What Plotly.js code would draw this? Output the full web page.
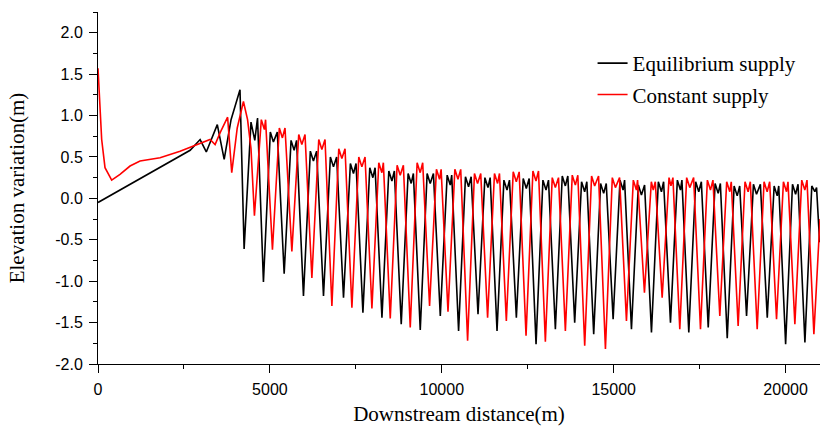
<!DOCTYPE html>
<html>
<head>
<meta charset="utf-8">
<script src="https://cdn.plot.ly/plotly-3.0.1.min.js"></script>
<style>html,body{margin:0;padding:0;background:#fff;}#chart{width:820px;height:426px;}</style>
</head>
<body>
<div id="chart"></div>
<script>
var seriesNames = ["Equilibrium supply", "Constant supply"];
var xTickVals = [0, 5000, 10000, 15000, 20000];
var yTickVals = [-2.0, -1.5, -1.0, -0.5, 0.0, 0.5, 1.0, 1.5, 2.0];
var yTickText = ["-2.0", "-1.5", "-1.0", "-0.5", "0.0", "0.5", "1.0", "1.5", "2.0"];

var blackX = [0,2680,2970,3150,3470,3670,3870,4020,4130,4250,
  4450,4560,4640,4812,
  5012,5102,5215,5415,
  5615,5705,5776,5976,
  6176,6266,6359,6559,
  6759,6849,6941,7141,
  7341,7431,7505,7705,
  7905,7995,8059,8259,
  8459,8549,8620,8820,
  9020,9110,9173,9373,
  9573,9663,9756,9956,
  10156,10246,10288,10488,
  10688,10778,10853,11053,
  11253,11343,11406,11606,
  11806,11896,11968,12168,
  12368,12458,12541,12741,
  12941,13031,13103,13303,
  13503,13593,13665,13865,
  14065,14155,14218,14418,
  14618,14708,14783,14983,
  15183,15273,15316,15516,
  15716,15806,15898,16098,
  16298,16388,16451,16651,
  16851,16941,16984,17184,
  17384,17474,17549,17749,
  17949,18039,18102,18302,
  18502,18592,18664,18864,
  19064,19154,19266,19466,
  19666,19756,19800,20000,
  20200,20290,20361,20561,
  20761,20850,20900,20989];
var blackY = [-0.05,0.58,0.71,0.56,0.89,0.47,0.95,1.15,1.31,-0.61,
  0.92,0.70,0.97,-1.01,
  0.80,0.68,0.80,-0.91,
  0.70,0.58,0.70,-1.18,
  0.57,0.45,0.57,-1.18,
  0.50,0.38,0.50,-1.20,
  0.42,0.30,0.42,-1.38,
  0.37,0.25,0.37,-1.44,
  0.33,0.21,0.33,-1.52,
  0.30,0.18,0.30,-1.59,
  0.30,0.18,0.30,-1.42,
  0.28,0.16,0.28,-1.60,
  0.26,0.14,0.26,-1.40,
  0.25,0.13,0.25,-1.60,
  0.22,0.10,0.22,-1.44,
  0.24,0.12,0.24,-1.76,
  0.22,0.10,0.22,-1.58,
  0.27,0.15,0.27,-1.50,
  0.20,0.08,0.20,-1.64,
  0.18,0.06,0.18,-1.46,
  0.22,0.10,0.22,-1.58,
  0.16,0.04,0.16,-1.62,
  0.20,0.08,0.20,-1.50,
  0.22,0.10,0.22,-1.62,
  0.20,0.08,0.20,-1.56,
  0.18,0.06,0.18,-1.69,
  0.15,0.03,0.15,-1.42,
  0.17,0.05,0.17,-1.44,
  0.15,0.03,0.15,-1.76,
  0.17,0.05,0.17,-1.74,
  0.15,0.08,0.13,-0.53];

var redX = [0,30,107,204,398,640,932,1223,1805,2387,2970,3260,3406,3560,3770,3890,4050,4230,4350,4450,4550,
  4750,4840,4874,5074,
  5274,5364,5439,5639,
  5839,5929,6021,6221,
  6421,6511,6603,6803,
  7003,7093,7185,7385,
  7585,7675,7767,7967,
  8167,8257,8300,8500,
  8700,8790,8882,9082,
  9282,9372,9444,9644,
  9844,9934,9980,10180,
  10380,10470,10550,10750,
  10950,11040,11132,11332,
  11532,11622,11677,11877,
  12077,12167,12250,12450,
  12650,12740,12812,13012,
  13212,13302,13394,13594,
  13794,13884,13956,14156,
  14356,14446,14559,14759,
  14959,15049,15170,15370,
  15570,15660,15694,15894,
  16094,16150,16209,16409,
  16609,16665,16722,16922,
  17122,17212,17324,17524,
  17724,17814,17886,18086,
  18286,18376,18419,18619,
  18819,18909,18973,19173,
  19373,19463,19536,19736,
  19936,20026,20069,20269,
  20469,20559,20622,20822,
  21000];
var redY = [1.57,1.35,0.71,0.37,0.22,0.29,0.39,0.45,0.49,0.57,0.67,0.71,0.65,0.80,0.98,0.31,0.85,1.17,0.95,0.60,-0.21,
  0.95,0.83,0.95,-0.62,
  0.85,0.73,0.85,-0.64,
  0.77,0.65,0.77,-0.96,
  0.71,0.59,0.71,-1.30,
  0.60,0.48,0.60,-1.32,
  0.50,0.38,0.50,-1.33,
  0.43,0.31,0.43,-1.45,
  0.40,0.28,0.40,-1.56,
  0.43,0.31,0.43,-1.30,
  0.35,0.23,0.35,-1.37,
  0.35,0.23,0.35,-1.72,
  0.30,0.18,0.30,-1.44,
  0.30,0.18,0.30,-1.48,
  0.32,0.20,0.32,-1.66,
  0.33,0.21,0.33,-1.73,
  0.25,0.13,0.25,-1.60,
  0.28,0.16,0.28,-1.78,
  0.27,0.15,0.27,-1.82,
  0.25,0.13,0.25,-1.48,
  0.22,0.10,0.22,-1.14,
  0.20,0.10,0.20,-1.20,
  0.25,0.15,0.25,-1.58,
  0.25,0.13,0.25,-1.58,
  0.22,0.10,0.22,-1.42,
  0.20,0.08,0.20,-1.54,
  0.20,0.08,0.20,-1.58,
  0.20,0.08,0.20,-1.46,
  0.20,0.08,0.20,-1.52,
  0.22,0.10,0.22,-1.64,
  -0.25];

var serif = "Liberation Serif, Times New Roman, serif";
var sans = "Liberation Sans, Arial, sans-serif";

var traces = [
  {x: blackX, y: blackY, type: "scatter", mode: "lines", name: seriesNames[0],
   line: {color: "#000000", width: 1.6}, legendgroup: "a"},
  {x: redX, y: redY, type: "scatter", mode: "lines", name: seriesNames[1],
   line: {color: "#ff0000", width: 1.6}, legendgroup: "b"}
];

var layout = {
  width: 820, height: 426,
  margin: {l: 98, r: 0, t: 12, b: 62},
  paper_bgcolor: "#ffffff", plot_bgcolor: "#ffffff",
  showlegend: true,
  legend: {x: 0.685, y: 0.912, xanchor: "left", yanchor: "top",
    font: {family: serif, size: 21, color: "#000"}, bgcolor: "rgba(0,0,0,0)",
    traceorder: "grouped", tracegroupgap: 1},
  xaxis: {
    range: [0, 21000], showgrid: false, zeroline: false,
    showline: true, linecolor: "#000", linewidth: 1,
    ticks: "outside", ticklen: 8, tickwidth: 1, tickcolor: "#000",
    tickvals: xTickVals, ticktext: xTickVals.map(String),
    ticklabelstandoff: 3,
    tickfont: {family: sans, size: 16, color: "#000"},
    minor: {dtick: 2500, ticks: "outside", ticklen: 4, tickwidth: 1, tickcolor: "#000", showgrid: false},
    title: {text: "Downstream distance(m)", font: {family: serif, size: 21, color: "#000"}, standoff: 18}
  },
  yaxis: {
    range: [-2.0, 2.25], showgrid: false, zeroline: false,
    showline: true, linecolor: "#000", linewidth: 1,
    ticks: "outside", ticklen: 8, tickwidth: 1, tickcolor: "#000",
    tickvals: yTickVals, ticktext: yTickText,
    ticklabelstandoff: 3,
    tickfont: {family: sans, size: 16, color: "#000"},
    minor: {dtick: 0.25, ticks: "outside", ticklen: 4, tickwidth: 1, tickcolor: "#000", showgrid: false},
    title: {text: "Elevation variation(m)", font: {family: serif, size: 21, color: "#000"}, standoff: 24}
  }
};

Plotly.newPlot("chart", traces, layout, {displayModeBar: false, staticPlot: true});
</script>
</body>
</html>
